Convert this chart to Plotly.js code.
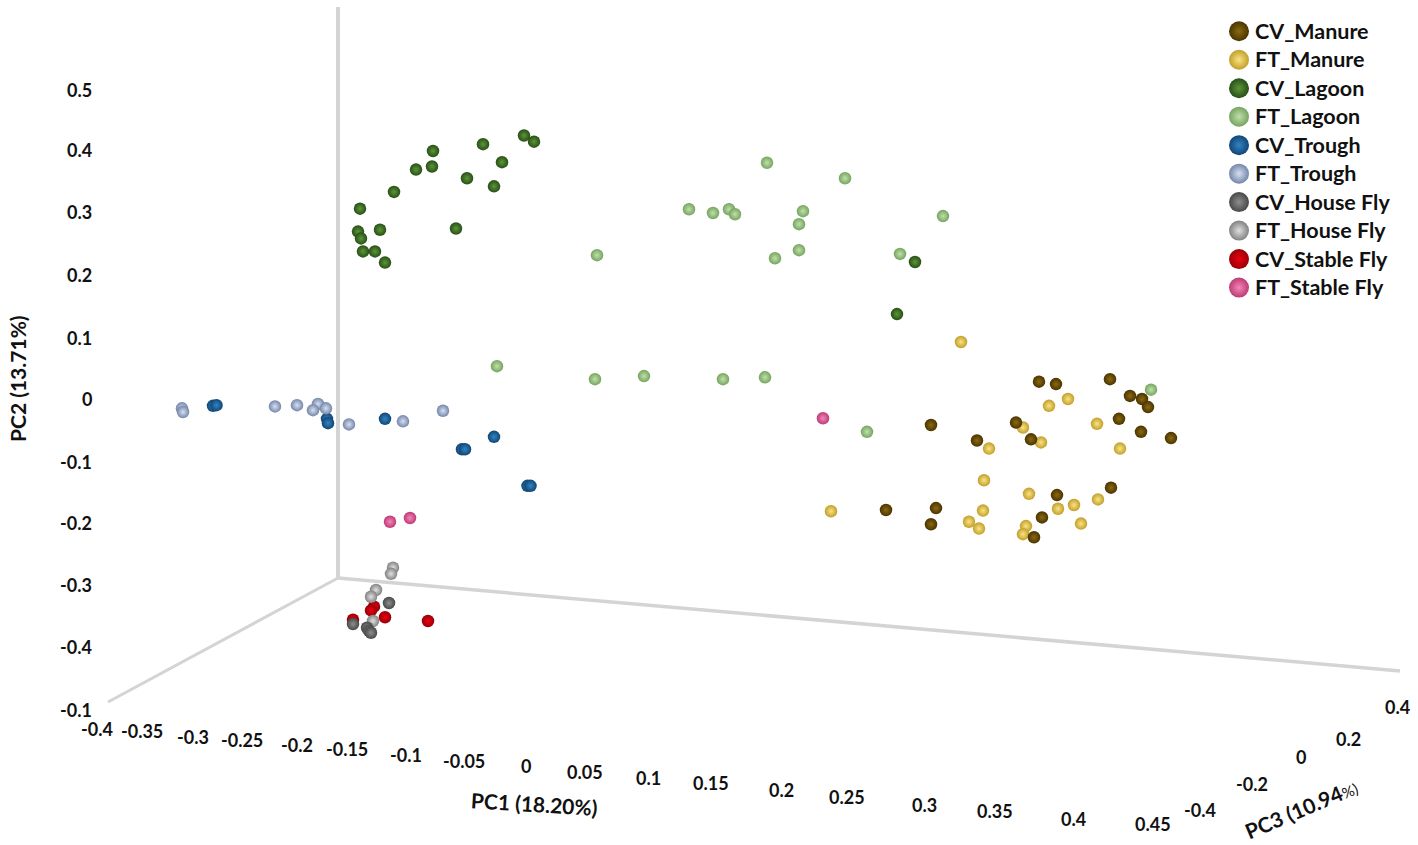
<!DOCTYPE html>
<html>
<head>
<meta charset="utf-8">
<script src="https://cdn.plot.ly/plotly-3.0.1.min.js"></script>
<style>html,body{margin:0;padding:0;background:#fff}</style>
</head>
<body>
<div id="chart" style="width:1418px;height:845px"></div>
<script>
// scores as projected on the picture plane: x is PC1 with PC3 depth folded in, y is PC2
const cvManureX = [.512,.529,.583,.603,.615,.621,.592,.614,.644,.489,.504,.450,.584,.530,.515,.507,.404,.359,.409,.404];
const cvManureY = [.028,.024,.032,.005,0,-.013,-.032,-.053,-.063,-.038,-.065,-.067,-.143,-.155,-.191,-.223,-.042,-.179,-.176,-.202];
const ftManureX = [.541,.522,.496,.514,.570,.593,.462,.457,.502,.547,.571,.531,.456,.442,.452,.554,.499,.496,.434,.304];
const ftManureY = [0,-.011,-.046,-.070,-.040,-.080,-.080,-.131,-.153,-.171,-.162,-.177,-.180,-.198,-.209,-.201,-.205,-.218,.092,-.181];
const cvLagoonX = [-.003,.007,-.044,-.025,-.094,-.095,-.111,-.060,-.033,-.133,-.167,-.169,-.147,-.071,-.166,-.164,-.152,-.142,.388,.370];
const cvLagoonY = [.425,.415,.411,.382,.400,.375,.370,.356,.343,.334,.307,.270,.273,.275,.259,.238,.238,.220,.221,.137];
const ftLagoonX = [.240,.318,.162,.202,.186,.208,.276,.416,.272,.272,.248,.373,.070,-.030,.068,.117,.196,.238,.340,.624];
const ftLagoonY = [.381,.356,.306,.306,.300,.298,.303,.295,.282,.240,.227,.234,.232,.053,.032,.037,.032,.035,-.053,.015];
const cvTroughX = [-.314,-.3105,-.200,-.199,-.142,-.065,-.062,-.033,.0005,.0035];
const cvTroughY = [-.011,-.010,-.032,-.039,-.032,-.081,-.081,-.061,-.140,-.140];
const ftTroughX = [-.345,-.344,-.252,-.230,-.209,-.201,-.214,-.178,-.124,-.084];
const ftTroughY = [-.015,-.021,-.012,-.010,-.008,-.015,-.018,-.041,-.036,-.019];
const cvHouseX = [-.138,-.174,-.160,-.158,-.156];
const cvHouseY = [-.329,-.363,-.369,-.374,-.377];
const ftHouseX = [-.134,-.136,-.151,-.156,-.154];
const ftHouseY = [-.272,-.282,-.308,-.319,-.358];
const cvStableX = [-.099,-.142,-.153,-.156,-.174];
const cvStableY = [-.358,-.352,-.335,-.341,-.356];
const ftStableX = [-.137,-.117,.296];
const ftStableY = [-.198,-.192,-.031];

const pc2Ticks = ['0.5','0.4','0.3','0.2','0.1','0','-0.1','-0.2','-0.3','-0.4','-0.1'];
const pc1Ticks = ['-0.4','-0.35','-0.3','-0.25','-0.2','-0.15','-0.1','-0.05','0','0.05','0.1','0.15','0.2','0.25','0.3','0.35','0.4','0.45'];
const pc3Ticks = ['-0.4','-0.2','0','0.2','0.4'];

// label anchors in page pixels, the axes are drawn as a picture of a 3D box
const pc2TickPx = [[92,90],[92,150],[92,212],[92,275],[92,338],[92,399],[92,462],[92,523],[92,585],[92,647],[92,710]];
const pc1TickPx = [[97,729],[142,731],[193,737],[242,740],[297,745],[347,749],[406,755],[464,761],[526,766],[585,772],[648,778],[711,783],[781,790],[847,797],[924,805],[995,811],[1073,819],[1153,824]];
const pc3TickPx = [[1200,810],[1252,784],[1301,757],[1348,739],[1397,707]];

const W = 1418, H = 845;
const sx = px => (px - 527) / 1000;
const sy = py => (399 - py) / 620;

function series(name, x, y, color, light, rank) {
    return {
        x: x, y: y, name: name, type: 'scatter', mode: 'markers', legendrank: rank,
        marker: { size: 12.5, color: color, line: { width: 0 }, gradient: { type: 'radial', color: light } },
        hoverinfo: 'name'
    };
}

// drawing order differs from legend order so the overlaps come out right
const traces = [
    series('FT_Manure', ftManureX, ftManureY, '#c39e2c', '#f7e582', 2),
    series('CV_Manure', cvManureX, cvManureY, '#4a3301', '#8a6a10', 1),
    series('CV_Lagoon', cvLagoonX, cvLagoonY, '#284f17', '#5c9638', 3),
    series('FT_Lagoon', ftLagoonX, ftLagoonY, '#76a45f', '#bfe0ab', 4),
    series('CV_Trough', cvTroughX, cvTroughY, '#124675', '#3184c4', 5),
    series('FT_Trough', ftTroughX, ftTroughY, '#7486aa', '#d6e0f0', 6),
    series('CV_Stable Fly', cvStableX, cvStableY, '#980006', '#ec0012', 9),
    series('FT_Stable Fly', ftStableX, ftStableY, '#bd3b75', '#f486ba', 10),
    series('FT_House Fly', ftHouseX, ftHouseY, '#828282', '#e0e0e0', 8),
    series('CV_House Fly', cvHouseX, cvHouseY, '#484848', '#8e8e8e', 7)
];

const tickFont = { family: 'Lato', size: 18, color: '#111111', weight: 700 };
const annotations = [];
function label(text, px, py, anchor, font, angle) {
    annotations.push({
        x: sx(px), y: sy(py), xref: 'x', yref: 'y', text: text, showarrow: false,
        xanchor: anchor, yanchor: 'middle', font: font, textangle: angle || 0, borderpad: 0, borderwidth: 0
    });
}
pc2Ticks.forEach((t, i) => label(t, pc2TickPx[i][0], pc2TickPx[i][1], 'right', tickFont));
pc1Ticks.forEach((t, i) => label(t, pc1TickPx[i][0], pc1TickPx[i][1], 'center', tickFont));
pc3Ticks.forEach((t, i) => label(t, pc3TickPx[i][0], pc3TickPx[i][1], 'center', tickFont));

const titleFont = { family: 'Lato', size: 21, color: '#111111', weight: 700 };
label('PC2 (13.71%)', 17, 379, 'center', titleFont, -90);
label('PC1 (18.20%)', 534, 803, 'center', titleFont, 3.5);
label('PC3 (10.94<span style="font-size:15px;font-weight:400">%)</span>', 1301, 808, 'center', titleFont, -23);

function axisLine(x0, y0, x1, y1, width) {
    return { type: 'line', xref: 'x', yref: 'y', x0: sx(x0), y0: sy(y0), x1: sx(x1), y1: sy(y1), layer: 'below', line: { color: '#d4d4d4', width: width } };
}

const layout = {
    width: W, height: H,
    margin: { l: 0, r: 0, t: 0, b: 0 },
    paper_bgcolor: '#ffffff', plot_bgcolor: '#ffffff',
    xaxis: { range: [sx(0), sx(W)], visible: false, fixedrange: true },
    yaxis: { range: [sy(H), sy(0)], visible: false, fixedrange: true },
    showlegend: true,
    legend: {
        x: 1215 / W, y: 1 - 12 / H, xanchor: 'left', yanchor: 'top', bgcolor: 'rgba(0,0,0,0)',
        itemwidth: 30, font: { family: 'Lato', size: 19.6, color: '#111111', weight: 700 }
    },
    shapes: [
        axisLine(338, 7, 338, 578, 4),
        axisLine(338, 578, 108, 702, 3),
        axisLine(338, 578, 1400, 671, 3.5)
    ],
    annotations: annotations
};

Plotly.newPlot('chart', traces, layout, { displayModeBar: false }).then(() => {
    // legend swatches are bigger than the points on the chart, text runs wider than the row height allows
    document.querySelectorAll('.legend .legendpoints path').forEach(p => {
        const t = p.getAttribute('transform') || '';
        p.setAttribute('transform', 'translate(4,0) ' + t + ' scale(1.6)');
    });
    document.querySelectorAll('.legend .legendtext').forEach(t => { t.style.fontSize = '21.5px'; });
    document.querySelectorAll('.legend .scrollbox').forEach(s => s.removeAttribute('clip-path'));
});
</script>
</body>
</html>
